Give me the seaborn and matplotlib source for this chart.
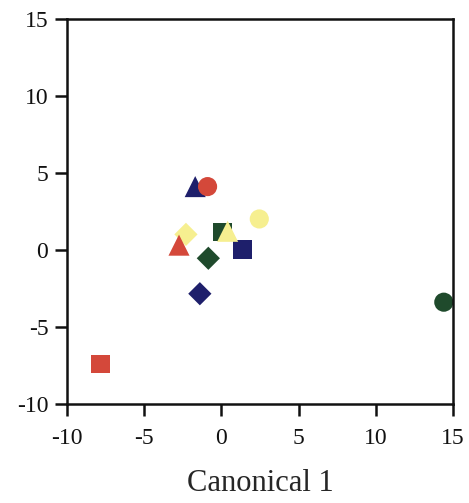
import numpy as np
import pandas as pd
import seaborn as sns
import matplotlib
matplotlib.use("Agg")
from matplotlib import pyplot as plt

# canonical scores
canon1 = [-1.7, -0.9, -2.3, -2.75, 0.05, 0.4, 2.45, -0.85, 1.35, -1.4, -7.85, 14.4]
canon2 = [4.1, 4.1, 1.0, 0.3, 1.15, 1.2, 2.0, -0.55, 0.0, -2.85, -7.4, -3.4]
colour = ["blue", "red", "yellow", "red", "green", "yellow", "yellow", "green", "blue", "blue", "red", "green"]
shape = ["tri", "circ", "diam", "tri", "sq", "tri", "circ", "diam", "sq", "diam", "sq", "circ"]

df = pd.DataFrame({"c1": canon1, "c2": canon2, "colour": colour, "shape": shape})

palette = {"red": "#d4483a", "blue": "#1e1f6b", "green": "#1f4a2c", "yellow": "#f6ef90"}
# drawing order matters where marks overlap
markers = {"sq": "s", "diam": "D", "tri": "^", "circ": "o"}
sizes = {"tri": 230, "circ": 190, "diam": 140, "sq": 180}

sns.set_style("white")
plt.rcParams["font.family"] = ["Liberation Serif", "DejaVu Serif"]
plt.rcParams["axes.unicode_minus"] = False

fig = plt.figure(figsize=(4.69, 5.03), dpi=100)
ax = fig.add_axes([0.143, 0.197, 0.823, 0.766])

# one call per shape so every shape gets its own size
for shp, mk in markers.items():
    sub = df[df["shape"] == shp]
    sns.scatterplot(data=sub, x="c1", y="c2", hue="colour", palette=palette,
                    marker=mk, s=sizes[shp], linewidth=0, legend=False, ax=ax)

ax.set_xlim(-10, 15)
ax.set_ylim(-10, 15)
ax.set_xticks([-10, -5, 0, 5, 10, 15])
ax.set_yticks([-10, -5, 0, 5, 10, 15])
ax.set_xlabel("Canonical 1", fontsize=22, labelpad=14)
ax.set_ylabel("")
for sp in ax.spines.values():
    sp.set_linewidth(1.8)
    sp.set_color("#111111")
ax.tick_params(axis="both", which="both", direction="out", length=8.5, width=1.8,
               labelsize=17, pad=5, left=True, bottom=True, top=False, right=False,
               colors="#111111")
ax.tick_params(axis="x", pad=9)

fig.savefig("out.png", dpi=100, facecolor="white")
